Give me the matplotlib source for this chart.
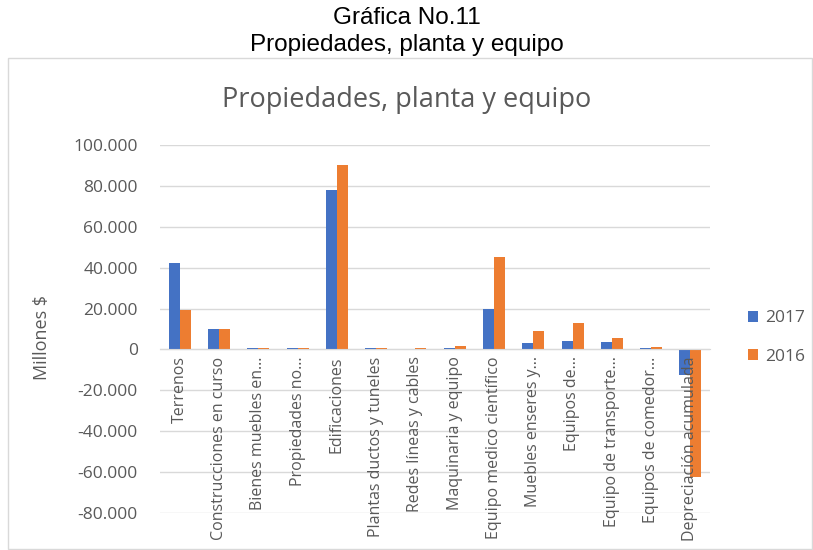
import matplotlib
matplotlib.use("Agg")
import matplotlib.pyplot as plt
import numpy as np
from matplotlib.ticker import FuncFormatter, MultipleLocator
from matplotlib.patches import Rectangle

categorias = ["Terrenos", "Construcciones en curso", "Bienes muebles en…",
              "Propiedades no…", "Edificaciones", "Plantas ductos y tuneles",
              "Redes líneas y cables", "Maquinaria y equipo",
              "Equipo medico científico", "Muebles enseres y…", "Equipos de…",
              "Equipo de transporte…", "Equipos de comedor…",
              "Depreciación acumulada"]
v2017 = [42300, 10100, 500, 500, 78000, 500, 0, 500, 20000, 3300, 4200, 3700, 500, -12500]
v2016 = [19500, 10100, 500, 500, 90200, 500, 500, 1600, 45200, 9000, 12800, 5800, 1000, -62600]

azul = "#4472C4"
naranja = "#ED7D31"
gris = "#595959"
font = "Open Sans"

fig = plt.figure(figsize=(8.13, 5.5), dpi=100)

# titulo externo
fig.text(0.5, 1 - 18/550, "Gráfica No.11", ha="center", va="center",
         fontsize=17.5, family="Liberation Sans")
fig.text(0.5, 1 - 45/550, "Propiedades, planta y equipo", ha="center", va="center",
         fontsize=17.5, family="Liberation Sans")

# borde del grafico
fig.patches.append(Rectangle((8/813, 0.002), 804/813, 1 - 58/550 - 0.002,
                             transform=fig.transFigure, fill=False,
                             edgecolor="#d9d9d9", lw=1))

fig.text(0.5, 1 - 100/550, "Propiedades, planta y equipo", ha="center", va="center",
         fontsize=19.5, color=gris, family=font)

ax = fig.add_axes([160/813, 1 - 513/550, 550/813, 368/550])
x = np.arange(len(categorias))
w = 0.28
ax.bar(x - w/2, v2017, w, color=azul, label="2017", zorder=3)
ax.bar(x + w/2, v2016, w, color=naranja, label="2016", zorder=3)

ax.set_ylim(-80000, 100000)
ax.set_xlim(-0.5, len(categorias) - 0.5)
ax.yaxis.set_major_locator(MultipleLocator(20000))
ax.yaxis.set_major_formatter(FuncFormatter(lambda v, p: f"{int(v):,}".replace(",", ".")))
ax.grid(axis="y", color="#d9d9d9", lw=1, zorder=0)
for s in ["top", "right", "left"]:
    ax.spines[s].set_visible(False)
ax.spines["bottom"].set_position(("data", 0))
ax.spines["bottom"].set_color("#d9d9d9")
ax.spines["bottom"].set_zorder(4)
ax.tick_params(axis="y", length=0, labelsize=12.5, labelcolor=gris, pad=16)
ax.tick_params(axis="x", length=0, labelsize=11.5, labelcolor=gris, pad=5)
ax.set_xticks(x)
ax.set_xticklabels(categorias, rotation=90, va="top", ha="center")
ax.xaxis.set_zorder(4)  # etiquetas sobre las barras
for t in ax.get_xticklabels() + ax.get_yticklabels():
    t.set_family(font)

fig.text(42/813, 1 - 337/550, "Millones $", rotation=90, ha="center", va="center",
         fontsize=13, color=gris, family=font)

ax.legend(loc="center left", bbox_to_anchor=(1.069, 0.477), frameon=False,
          borderpad=0, borderaxespad=0,
          prop={"family": font, "size": 12.5}, labelcolor=gris,
          handlelength=0.6, handleheight=0.6, handletextpad=0.4, labelspacing=1.3)

fig.savefig("out.png", dpi=100)
